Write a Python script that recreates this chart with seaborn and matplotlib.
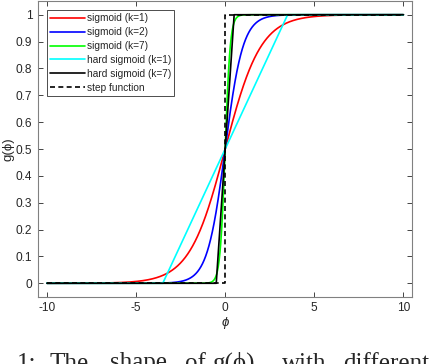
import numpy as np
import pandas as pd
import seaborn as sns
import matplotlib
matplotlib.use("Agg")
import matplotlib.pyplot as plt

# ---- data / parameters ----
x_min, x_max = -10, 10
sigmoid_k = [1, 2, 7]
sigmoid_colors = ["#ff0000", "#0000ff", "#00ff00"]
hard_k = [1, 7]
hard_colors = ["#00ffff", "#000000"]
step_x = [-10, 0, 0, 10]
step_y = [0, 0, 1, 1]
xticks = [-10, -5, 0, 5, 10]
yticks = [0, 0.1, 0.2, 0.3, 0.4, 0.5, 0.6, 0.7, 0.8, 0.9, 1]
caption_words = ["1:", "The", "shape", "of", "g(ϕ)", "with", "different"]
caption_x_px = [17, 50, 110, 185, 213, 282, 343]

sns.set_style("ticks")
plt.rcParams["font.family"] = ["Liberation Sans", "DejaVu Sans"]

fig = plt.figure(figsize=(4.34, 3.64), dpi=100)
W, H = 434, 364
ax = fig.add_axes([38 / W, (H - 296.7) / H, (412.3 - 38) / W, (296.7 - 1.3) / H])

xs = np.linspace(x_min, x_max, 4001)
lw = 1.2
for k, c in zip(sigmoid_k, sigmoid_colors):
    df = pd.DataFrame({"x": xs, "y": 1 / (1 + np.exp(-k * xs))})
    sns.lineplot(data=df, x="x", y="y", color=c, lw=lw, ax=ax,
                 label=f"sigmoid (k={k})", estimator=None, sort=False)
for k, c in zip(hard_k, hard_colors):
    df = pd.DataFrame({"x": xs, "y": np.clip(0.5 + k * xs / 7, 0, 1)})
    sns.lineplot(data=df, x="x", y="y", color=c, lw=lw, ax=ax,
                 label=f"hard sigmoid (k={k})", estimator=None, sort=False)
df = pd.DataFrame({"x": step_x, "y": step_y})
sns.lineplot(data=df, x="x", y="y", color="black", lw=lw, ls=(0, (3, 2)), ax=ax,
             label="step function", estimator=None, sort=False)

ax.set_xlim(-10.5, 10.5)
ax.set_ylim(-0.05, 1.05)
ax.set_xticks(xticks)
ax.set_xticklabels([str(t) for t in xticks])
ax.set_yticks(yticks)
ax.set_yticklabels(["0" if t == 0 else ("1" if t == 1 else f"{t:g}") for t in yticks])
gray = "#262626"
for s in ax.spines.values():
    s.set_visible(True)
    s.set_color("#808080")
    s.set_linewidth(0.8)
ax.tick_params(direction="in", length=3.6, width=0.6, color=gray,
               labelsize=8.6, labelcolor=gray, top=True, right=True, pad=4)
ax.set_xlabel("ϕ", fontsize=9.5, color=gray, style="italic", labelpad=2)
ax.set_ylabel("g(ϕ)", fontsize=9.5, color=gray, labelpad=1)

leg = ax.legend(loc="upper left", fontsize=7.3, frameon=True, fancybox=False,
                framealpha=1, edgecolor="#303030", handlelength=3.4,
                handletextpad=0.2, labelspacing=0.38, borderaxespad=0.9,
                borderpad=0.3)
leg.get_frame().set_linewidth(0.6)
for t in leg.get_texts():
    t.set_color(gray)

for w, xp in zip(caption_words, caption_x_px):
    fig.text(xp / W, (H - 369.5) / H, w, fontsize=18, family="Liberation Serif",
             va="baseline", ha="left")

fig.savefig("out.png", dpi=100)
